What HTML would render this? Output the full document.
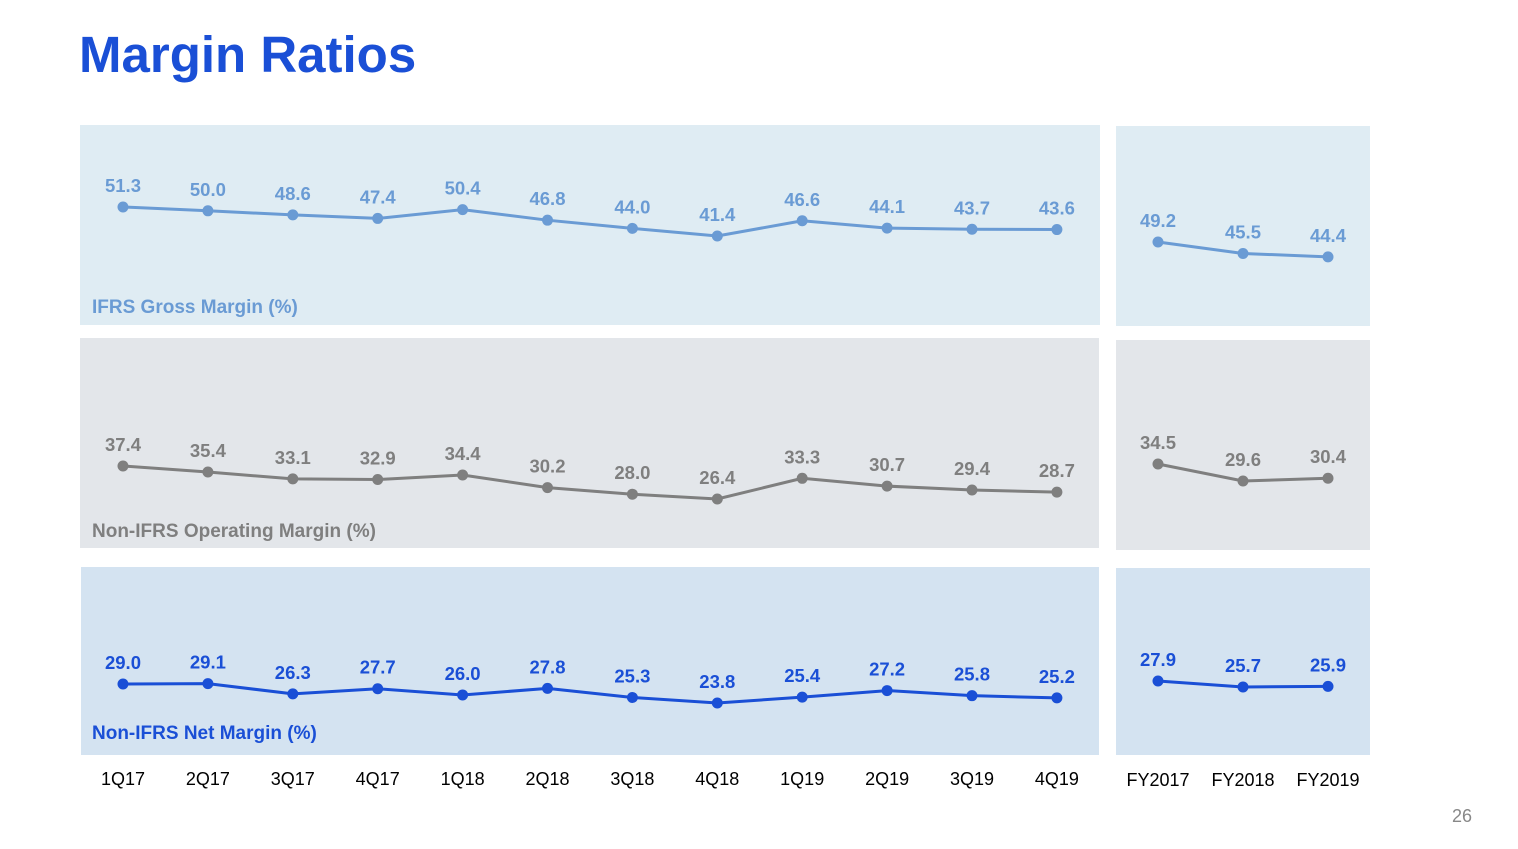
<!DOCTYPE html>
<html><head><meta charset="utf-8"><style>
body{margin:0;width:1518px;height:844px;background:#fff;font-family:"Liberation Sans",sans-serif;overflow:hidden}
</style></head><body>
<svg width="1518" height="844" font-family="Liberation Sans, sans-serif">
<text x="79" y="72" font-size="51" font-weight="bold" fill="#1a4fd6">Margin Ratios</text>
<rect x="80" y="125" width="1020" height="200" fill="#dfecf3"/>
<rect x="1116" y="126" width="254" height="200" fill="#dfecf3"/>
<rect x="80" y="338" width="1019" height="210" fill="#e3e6ea"/>
<rect x="1116" y="340" width="254" height="210" fill="#e3e6ea"/>
<rect x="81" y="567" width="1018" height="188" fill="#d4e3f1"/>
<rect x="1116" y="568" width="254" height="187" fill="#d4e3f1"/>
<text x="92" y="313" font-size="19" font-weight="bold" fill="#6a9bd4">IFRS Gross Margin (%)</text>
<text x="92" y="537" font-size="19" font-weight="bold" fill="#7f7f7f">Non-IFRS Operating Margin (%)</text>
<text x="92" y="739" font-size="19" font-weight="bold" fill="#1a4fd6">Non-IFRS Net Margin (%)</text>
<g id="marks"></g>
<text x="1472" y="822" font-size="18" fill="#888" text-anchor="end">26</text>
</svg>
<script>
const quarters=["1Q17","2Q17","3Q17","4Q17","1Q18","2Q18","3Q18","4Q18","1Q19","2Q19","3Q19","4Q19"];
const years=["FY2017","FY2018","FY2019"];
const grossQ=[51.3,50.0,48.6,47.4,50.4,46.8,44.0,41.4,46.6,44.1,43.7,43.6];
const grossY=[49.2,45.5,44.4];
const opQ=[37.4,35.4,33.1,32.9,34.4,30.2,28.0,26.4,33.3,30.7,29.4,28.7];
const opY=[34.5,29.6,30.4];
const netQ=[29.0,29.1,26.3,27.7,26.0,27.8,25.3,23.8,25.4,27.2,25.8,25.2];
const netY=[27.9,25.7,25.9];
const NS="http://www.w3.org/2000/svg";
const g=document.getElementById('marks');
function xq(i){return 123+i*84.9;}
function xy(i){return 1158+i*85;}
function mk(tag,attrs){const e=document.createElementNS(NS,tag);for(const k in attrs)e.setAttribute(k,attrs[k]);g.appendChild(e);return e;}
function series(vals,xf,v0,y0,k,color,name){
  const yf=v=>y0-(v-v0)*k;
  const p=mk('polyline',{points:vals.map((v,i)=>xf(i)+','+yf(v)).join(' '),fill:'none',stroke:color,'stroke-width':3});
  
  
  vals.forEach((v,i)=>{
    const c=mk('circle',{cx:xf(i),cy:yf(v),r:5.5,fill:color});
    
    
    const t=mk('text',{x:xf(i),y:yf(v)-15,'text-anchor':'middle','font-size':18.5,'font-weight':'bold',fill:color});
    t.textContent=v.toFixed(1);
    
    
  });
}
series(grossQ,xq,51.3,207,2.93,'#6a9bd4','gross-quarterly');
series(grossY,xy,49.2,242,3.1,'#6a9bd4','gross-yearly');
series(opQ,xq,37.4,466,3.0,'#7f7f7f','operating-quarterly');
series(opY,xy,34.5,464,3.47,'#7f7f7f','operating-yearly');
series(netQ,xq,29.0,684,3.65,'#1a4fd6','net-quarterly');
series(netY,xy,27.9,681,2.7,'#1a4fd6','net-yearly');
quarters.forEach((q,i)=>{const t=mk('text',{x:xq(i),y:785,'text-anchor':'middle','font-size':18,fill:'#000'});t.textContent=q;

});
years.forEach((q,i)=>{const t=mk('text',{x:xy(i),y:786,'text-anchor':'middle','font-size':18,fill:'#000'});t.textContent=q;

});
</script>
</body></html>
